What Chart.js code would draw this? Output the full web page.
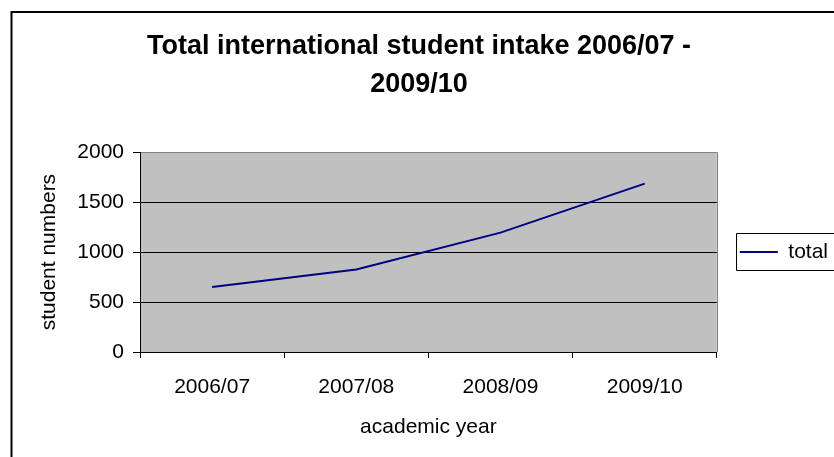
<!DOCTYPE html>
<html lang="en">
<head>
    <meta charset="UTF-8">
    <title>Total international student intake 2006/07 - 2009/10</title>
    <style>
        body { margin: 0; background: #fff; overflow: hidden; }
        .chart-container { position: relative; width: 834px; height: 457px; }
    </style>
    <script src="https://cdn.jsdelivr.net/npm/chart.js"></script>
</head>
<body>
    <div class="chart-container">
        <canvas id="intakeChart"></canvas>
    </div>

    <script>
        // data
        const academicYears = ['2006/07', '2007/08', '2008/09', '2009/10'];
        const totalIntake = [650, 825, 1195, 1685];
        const yTickValues = [0, 500, 1000, 1500, 2000];

        const fontFamily = "'Liberation Sans', Arial, sans-serif";
        Chart.defaults.font.family = fontFamily;
        Chart.defaults.color = '#000';

        // grey plot area, outer frame, legend box
        const excelFrame = {
            id: 'excelFrame',
            beforeDraw(chart) {
                const { ctx, chartArea: a } = chart;
                ctx.save();
                ctx.fillStyle = '#fff';
                ctx.fillRect(0, 0, chart.width, chart.height);
                ctx.fillStyle = '#c0c0c0';
                ctx.fillRect(a.left, a.top, a.right - a.left, a.bottom - a.top);
                ctx.strokeStyle = '#808080';
                ctx.lineWidth = 1;
                ctx.beginPath();
                ctx.moveTo(Math.round(a.right) + 0.5, a.top);
                ctx.lineTo(Math.round(a.right) + 0.5, a.bottom);
                ctx.stroke();
                ctx.restore();
            },
            afterDraw(chart) {
                const { ctx } = chart;
                ctx.save();
                // nothing belongs in the top right corner except the frame
                ctx.fillStyle = '#fff';
                ctx.fillRect(chart.width - 14, 14, 14, 210);
                // outer frame: only the left and top edges are inside the picture
                ctx.strokeStyle = '#000';
                ctx.lineWidth = 2;
                ctx.beginPath();
                ctx.moveTo(11.5, chart.height + 5);
                ctx.lineTo(11.5, 12);
                ctx.lineTo(chart.width + 5, 12);
                ctx.stroke();
                const hb = chart.legend && chart.legend.legendHitBoxes[0];
                if (hb) {
                    ctx.lineWidth = 1;
                    const x0 = Math.round(hb.left - 4) + 0.5;
                    const y0 = Math.round(hb.top - 9) + 0.5;
                    const y1 = y0 + Math.round(hb.height + 16);
                    ctx.beginPath();
                    ctx.moveTo(chart.width + 5, y0);
                    ctx.lineTo(x0, y0);
                    ctx.lineTo(x0, y1);
                    ctx.lineTo(chart.width + 5, y1);
                    ctx.stroke();
                }
                ctx.restore();
            }
        };

        const ctx = document.getElementById('intakeChart').getContext('2d');
        const intakeChart = new Chart(ctx, {
            type: 'line',
            data: {
                labels: academicYears,
                datasets: [{
                    label: 'total',
                    data: totalIntake,
                    borderColor: '#000080',
                    backgroundColor: '#000080',
                    borderWidth: 2,
                    pointRadius: 0,
                    tension: 0,
                    fill: false
                }]
            },
            options: {
                responsive: true,
                maintainAspectRatio: false,
                animation: false,
                layout: { padding: { left: 0, right: -4, top: 0, bottom: 0 } },
                plugins: {
                    title: {
                        display: true,
                        text: ['Total international student intake 2006/07 -', '2009/10'],
                        color: '#000',
                        font: { size: 27, weight: 'bold', lineHeight: 1.42 },
                        padding: { top: 27, bottom: 48.5 }
                    },
                    legend: {
                        position: 'right',
                        fullSize: false,
                        labels: {
                            boxWidth: 38,
                            boxHeight: 2,
                            padding: 23,
                            color: '#000',
                            font: { size: 21 },
                            generateLabels(chart) {
                                const items = Chart.defaults.plugins.legend.labels.generateLabels(chart);
                                items.forEach(it => { it.fillStyle = it.strokeStyle; it.lineWidth = 0; });
                                return items;
                            }
                        }
                    },
                    tooltip: { enabled: false }
                },
                scales: {
                    x: {
                        offset: true,
                        grid: { offset: true, drawOnChartArea: false, tickLength: 6, color: '#000' },
                        border: { color: '#000', width: 1 },
                        ticks: { padding: 17, font: { size: 21 }, color: '#000' },
                        title: {
                            display: true,
                            text: 'academic year',
                            color: '#000',
                            font: { size: 21 },
                            padding: { top: 0, bottom: 17 }
                        },
                        afterFit(scale) { scale.height = 105; }
                    },
                    y: {
                        min: yTickValues[0],
                        max: yTickValues[yTickValues.length - 1],
                        afterBuildTicks(scale) {
                            scale.ticks = yTickValues.map(v => ({ value: v }));
                        },
                        grid: {
                            color: c => (c.tick && c.tick.value === 2000 ? '#808080' : '#000'),
                            tickColor: '#000',
                            tickLength: 7,
                            lineWidth: 1
                        },
                        border: { color: '#000', width: 1 },
                        ticks: {
                            padding: 9,
                            font: { size: 21 },
                            color: '#000',
                            callback: value => String(value)
                        },
                        title: {
                            display: true,
                            text: 'student numbers',
                            color: '#000',
                            font: { size: 21 },
                            padding: { top: 37, bottom: 0 }
                        },
                        afterFit(scale) { scale.width = 140; }
                    }
                }
            },
            plugins: [excelFrame]
        });
    </script>
</body>
</html>
